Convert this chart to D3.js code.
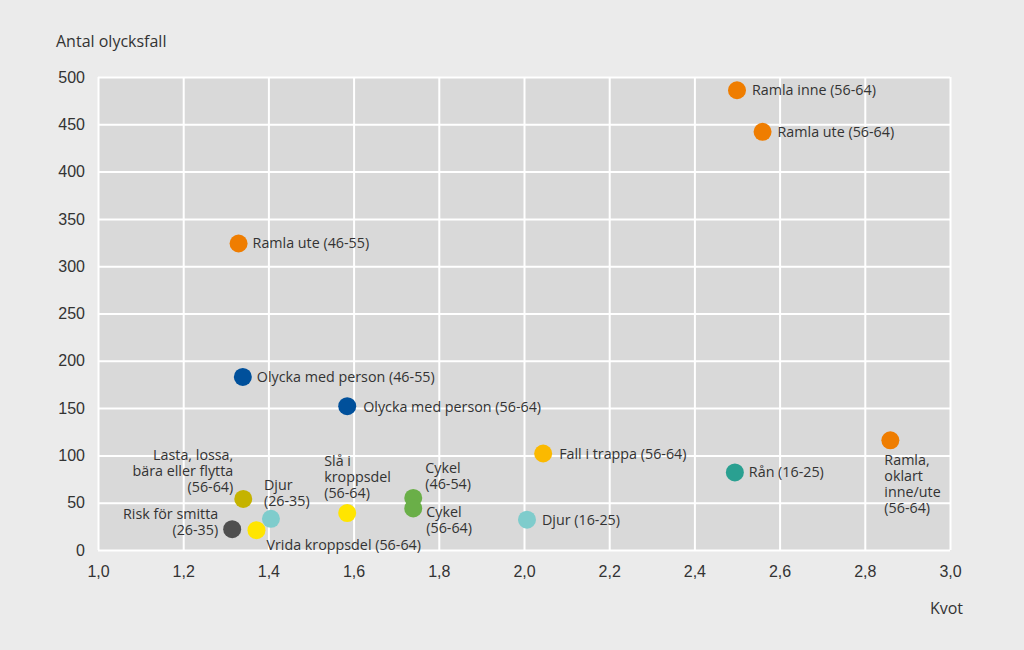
<!DOCTYPE html>
<html><head><meta charset="utf-8">
<script src="https://cdn.jsdelivr.net/npm/d3@7"></script>
<style>
html,body{margin:0;padding:0;background:#ebebeb;}
svg{display:block;font-family:"Open Sans","Noto Sans",sans-serif;}
</style></head>
<body><svg id="c" width="1024" height="650"></svg>
<script>
// Data
const categories = [
  "Ramla inne (56-64)", "Ramla ute (56-64)", "Ramla ute (46-55)",
  "Olycka med person (46-55)", "Olycka med person (56-64)", "Fall i trappa (56-64)",
  "Rån (16-25)", "Ramla, oklart inne/ute (56-64)", "Djur (16-25)",
  "Cykel (46-54)", "Cykel (56-64)", "Slå i kroppsdel (56-64)",
  "Lasta, lossa, bära eller flytta (56-64)", "Djur (26-35)",
  "Risk för smitta (26-35)", "Vrida kroppsdel (56-64)"
];
const kvot = [2.50, 2.56, 1.33, 1.34, 1.585, 2.045, 2.495, 2.86, 2.007, 1.74, 1.74, 1.585, 1.341, 1.406, 1.315, 1.372];
const antal = [486, 442, 324, 183, 152, 102, 82, 116, 32, 55, 44, 39, 54, 33, 22, 21];
const colors = ["#ef7d00","#ef7d00","#ef7d00","#00509b","#00509b","#fbb900","#2aa091","#ef7d00","#7fcccc","#6aaf48","#6aaf48","#ffe500","#c5b300","#7fcccc","#4f4f4f","#ffe500"];
const labelLines = [
  ["Ramla inne (56-64)"], ["Ramla ute (56-64)"], ["Ramla ute (46-55)"],
  ["Olycka med person (46-55)"], ["Olycka med person (56-64)"], ["Fall i trappa (56-64)"],
  ["Rån (16-25)"], ["Ramla,","oklart","inne/ute","(56-64)"], ["Djur (16-25)"],
  ["Cykel","(46-54)"], ["Cykel","(56-64)"], ["Slå i","kroppsdel","(56-64)"],
  ["Lasta, lossa,","bära eller flytta","(56-64)"], ["Djur","(26-35)"],
  ["Risk för smitta","(26-35)"], ["Vrida kroppsdel (56-64)"]
];
const xTicks = [1.0,1.2,1.4,1.6,1.8,2.0,2.2,2.4,2.6,2.8,3.0];
const yTicks = [0,50,100,150,200,250,300,350,400,450,500];

// Layout for labels: [dx, dy of first line baseline, anchor]
const labelLayout = {
  0:[15,5,"start"],1:[15,5,"start"],2:[14,5,"start"],3:[14,5,"start"],4:[16,6,"start"],
  5:[16,5,"start"],6:[14,5,"start"],7:[-6,25,"start"],8:[15,5,"start"],
  9:[12,-25,"start"],10:[13,9,"start"],11:[-23,-47,"start"],
  12:[-10,-39,"end"],13:[-7,-29,"start"],14:[-14,-10,"end"],15:[10,20,"start"]
};

const svg = d3.select("#c");
const m = {l:98, r:950, t:77, b:550};
const x = d3.scaleLinear().domain([1,3]).range([m.l, m.r]);
const y = d3.scaleLinear().domain([0,500]).range([m.b, m.t]);
const fmt = d => d.toFixed(1).replace(".", ",");

svg.append("rect").attr("x",m.l).attr("y",m.t).attr("width",m.r-m.l).attr("height",m.b-m.t).attr("fill","#d9d9d9");

const gx = svg.append("g").attr("transform",`translate(0,${m.b})`)
  .call(d3.axisBottom(x).tickValues(xTicks).tickFormat(fmt).tickSize(-(m.b-m.t)).tickPadding(16));
const gy = svg.append("g").attr("transform",`translate(${m.l},0)`)
  .call(d3.axisLeft(y).tickValues(yTicks).tickSize(-(m.r-m.l)).tickPadding(13));
[gx,gy].forEach(g=>{
  g.select(".domain").remove();
  g.selectAll(".tick line").attr("stroke","#ffffff").attr("stroke-width",2);
  g.selectAll(".tick text").attr("fill","#333").style("font-size","16px");
});

svg.append("text").attr("x",56).attr("y",47).attr("fill","#333").style("font-size","16px").text("Antal olycksfall");
svg.append("text").attr("x",963).attr("y",614).attr("text-anchor","end").attr("fill","#333").style("font-size","16px").text("Kvot");

const pts = categories.map((c,i)=>({c,i,x:kvot[i],y:antal[i]}));
svg.append("g").selectAll("circle").data(pts).join("circle")
  .attr("cx",d=>x(d.x)).attr("cy",d=>y(d.y)).attr("r",9).attr("fill",d=>colors[d.i]);

const lg = svg.append("g").style("font-size","14.3px").attr("fill","#333");
pts.forEach(d=>{
  const [dx,dy,anc] = labelLayout[d.i];
  const t = lg.append("text").attr("text-anchor",anc);
  labelLines[d.i].forEach((ln,k)=>{
    t.append("tspan").attr("x",x(d.x)+dx).attr("y",y(d.y)+dy+k*16).text(ln);
  });
});
</script></body></html>
